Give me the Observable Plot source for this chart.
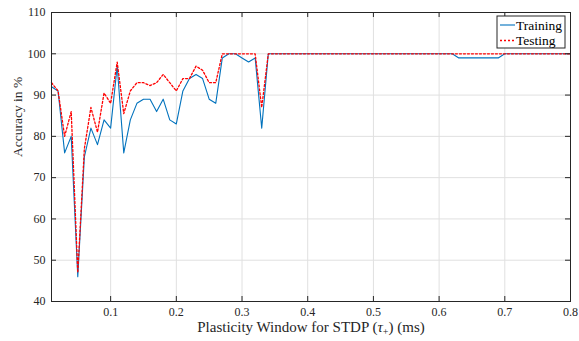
<!DOCTYPE html>
<html><head><meta charset="utf-8">
<script src="https://cdn.jsdelivr.net/npm/d3@7"></script>
<script src="https://cdn.jsdelivr.net/npm/@observablehq/plot@0.6"></script>
<style>body{margin:0;background:#fff}</style>
</head><body><div id="chart"></div>
<script>
const xValues = [0.01,0.02,0.03,0.04,0.05,0.06,0.07,0.08,0.09,0.10,
  0.11,0.12,0.13,0.14,0.15,0.16,0.17,0.18,0.19,0.20,
  0.21,0.22,0.23,0.24,0.25,0.26,0.27,0.28,0.29,0.30,
  0.31,0.32,0.33,0.34,0.35,0.36,0.37,0.38,0.39,0.40,
  0.41,0.42,0.43,0.44,0.45,0.46,0.47,0.48,0.49,0.50,
  0.51,0.52,0.53,0.54,0.55,0.56,0.57,0.58,0.59,0.60,
  0.61,0.62,0.63,0.64,0.65,0.66,0.67,0.68,0.69,0.70,
  0.71,0.72,0.73,0.74,0.75,0.76,0.77,0.78,0.79,0.80];
const training = [92,91,76,80,46,75,82,78,84,82,
  97,76,84,88,89,89,86,89,84,83,
  91,94,95,94,89,88,99,100,100,99,
  98,99,82,100,100,100,100,100,100,100,
  100,100,100,100,100,100,100,100,100,100,
  100,100,100,100,100,100,100,100,100,100,
  100,100,99,99,99,99,99,99,99,100,
  100,100,100,100,100,100,100,100,100,100];
const testing = [93,91,80,86,47,77,87,81,90.5,88,
  98,85.5,91,93,93,92.3,93,95,93,91,
  94,94,97,96,93,93,100,100,100,100,
  100,100,87,100,100,100,100,100,100,100,
  100,100,100,100,100,100,100,100,100,100,
  100,100,100,100,100,100,100,100,100,100,
  100,100,100,100,100,100,100,100,100,100,
  100,100,100,100,100,100,100,100,100,100];
const xTicks = [0.1,0.2,0.3,0.4,0.5,0.6,0.7,0.8];
const yTicks = [40,50,60,70,80,90,100,110];
const seriesNames = ["Training","Testing"];
const seriesColors = ["#0072BD","#FF0000"];
const xLabel = "Plasticity Window for STDP (τ+) (ms)";
const yLabel = "Accuracy in %";

const trainData = xValues.map((x,i)=>({x, y: training[i]}));
const testData = xValues.map((x,i)=>({x, y: testing[i]}));

const W = 579, H = 341, mL = 51, mR = 9, mT = 12, mB = 40;
const pw = W - mL - mR, ph = H - mT - mB;
const ink = "#262626";
const serif = "'Liberation Serif', 'Times New Roman', serif";

const chart = Plot.plot({
  width: W, height: H, marginLeft: mL, marginRight: mR, marginTop: mT, marginBottom: mB,
  style: {fontFamily: serif, fontSize: "12px", color: ink, background: "#fff"},
  x: {domain: [0.01, 0.8], ticks: xTicks, tickSize: 0, tickPadding: 6, label: null, tickFormat: d => String(d)},
  y: {domain: [40, 110], ticks: yTicks, tickSize: 0, tickPadding: 6, label: null},
  marks: [
    Plot.ruleX(xTicks, {stroke: "#e0e0e0"}),
    Plot.ruleY(yTicks, {stroke: "#e0e0e0"}),
    Plot.line(trainData, {x: "x", y: "y", stroke: seriesColors[0], strokeWidth: 1.1}),
    Plot.line(testData, {x: "x", y: "y", stroke: seriesColors[1], strokeWidth: 1.3, strokeDasharray: "2,2"}),
    Plot.ruleX(xTicks, {stroke: ink, insetTop: ph - 5}),
    Plot.ruleX(xTicks, {stroke: ink, insetBottom: ph - 5}),
    Plot.ruleY(yTicks, {stroke: ink, insetRight: pw - 5}),
    Plot.ruleY(yTicks, {stroke: ink, insetLeft: pw - 5}),
    Plot.frame({stroke: ink}),
    Plot.text([yLabel], {frameAnchor: "left", dx: -34, rotate: -90, fontSize: 13.5, fill: ink}),
    Plot.text([xLabel], {frameAnchor: "bottom", dy: 30.5, fontSize: 15, fill: ink})
  ]
});
document.getElementById("chart").appendChild(chart);

// subscript in x label
const svg = d3.select(chart);
svg.selectAll("text").each(function() {
  if (this.textContent === xLabel) {
    const t = d3.select(this);
    t.text("");
    t.append("tspan").text("Plasticity Window for STDP (");
    t.append("tspan").attr("font-style", "italic").text("τ");
    t.append("tspan").attr("font-size", "10px").attr("dy", "3").text("+");
    t.append("tspan").attr("dy", "-3").text(") (ms)");
  }
});

// legend box
const lg = svg.append("g").attr("font-family", serif).attr("font-size", "13.5px").attr("text-anchor", "start");
const lx = 497, ly = 16, lw = 68, lh = 32;
lg.append("rect").attr("x", lx).attr("y", ly).attr("width", lw).attr("height", lh)
  .attr("fill", "#fff").attr("stroke", ink).attr("stroke-width", 1);
seriesNames.forEach((name, i) => {
  const cy = ly + 9 + i * 15.5;
  lg.append("line").attr("x1", lx + 3).attr("x2", lx + 18).attr("y1", cy).attr("y2", cy)
    .attr("stroke", seriesColors[i]).attr("stroke-width", i ? 1.3 : 1.1)
    .attr("stroke-dasharray", i ? "2,2" : null);
  lg.append("text").attr("x", lx + 19).attr("y", cy).attr("dy", "0.35em").attr("fill", "#000").text(name);
});
</script>
</body></html>
